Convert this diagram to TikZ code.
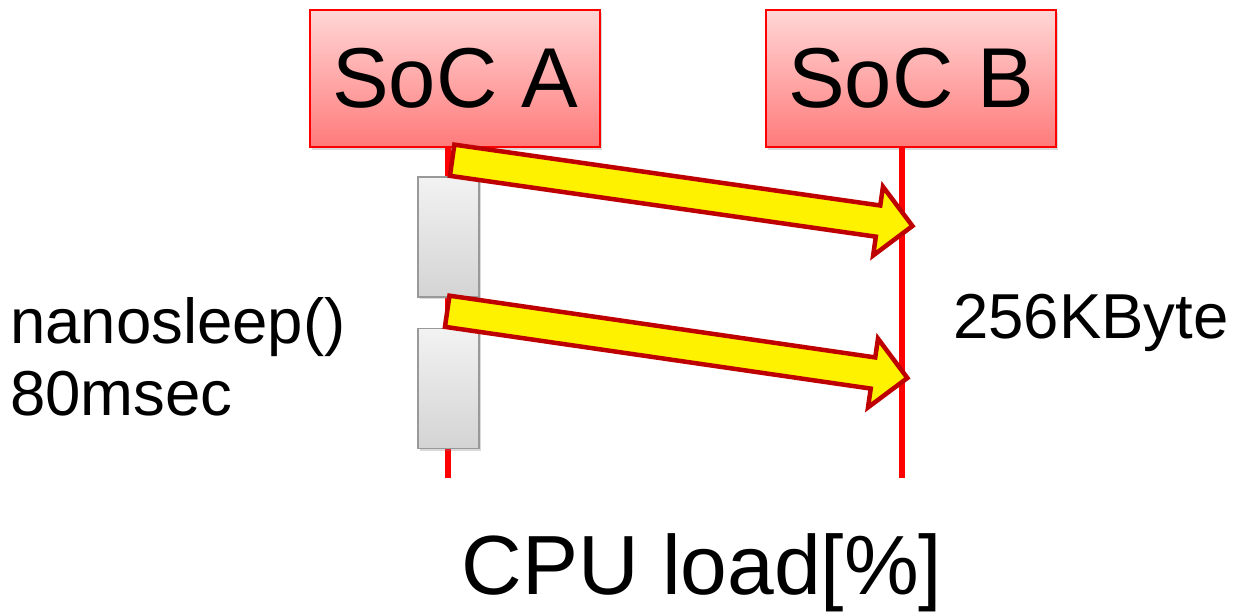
\documentclass[tikz,border=0pt]{standalone}
\usepackage{fontspec}
\setmainfont{Liberation Sans}
\usetikzlibrary{positioning,shapes.arrows,shadows}

\begin{document}
\begin{tikzpicture}[x=1pt,y=-1pt,
  soc/.style={draw=red,line width=1.5pt,top color=red!16,bottom color=red!52,
    minimum width=290pt,minimum height=137pt,inner sep=0pt,
    font=\fontsize{85}{100}\selectfont,
    drop shadow={shadow xshift=2pt,shadow yshift=-3pt,opacity=0.3}},
  lf/.style={red,line width=6pt},
  sl/.style={draw=black!40,line width=1.5pt,top color=black!5,bottom color=black!17,
    minimum width=61pt,minimum height=120pt,inner sep=0pt,
    drop shadow={shadow xshift=2pt,shadow yshift=-2pt,opacity=0.3}},
  ms/.style={single arrow,draw=red!75!black,fill=yellow,line width=4.5pt,
    inner xsep=0pt,inner ysep=13.5pt,single arrow head extend=19pt,
    minimum height=465pt,sloped,midway},
  lb/.style={font=\fontsize{63.5}{72}\selectfont,inner sep=0pt}]
  \useasboundingbox (0,0) rectangle (1233,613);
  \node[soc] (A) at (455,78.5) {SoC A};
  \node[soc] (B) at (911,78.5) {SoC B};
  \coordinate (Aend) at (448,478);
  \coordinate (Bend) at (902,478);
  \draw[lf] (A.south -| Aend) -- (Aend);
  \draw[lf] (B.south -| Bend) -- (Bend);
  \node[sl] (S0) at (448.5,237) {};
  \node[sl] (S1) at (448.5,388.5) {};
  \foreach \i/\xa/\ya/\xb/\yb in {0/443.5/159/905.5/225,1/438.5/310/900.5/377} {
    \coordinate (m\i) at (\xa,\ya);
    \coordinate (n\i) at (\xb,\yb);
    \path (m\i) -- node[ms] (M\i) {} (n\i);
  }
  \node[lb,align=left,anchor=north west] (lab) at (10,297) {nanosleep()\\80msec};
  \node[lb,anchor=base west] (sz) at (953,338) {256KByte};
  \node[lb,font=\fontsize{84}{100}\selectfont,anchor=base] (cpu) at (702,594) {CPU load[\%]};
\end{tikzpicture}
\end{document}
